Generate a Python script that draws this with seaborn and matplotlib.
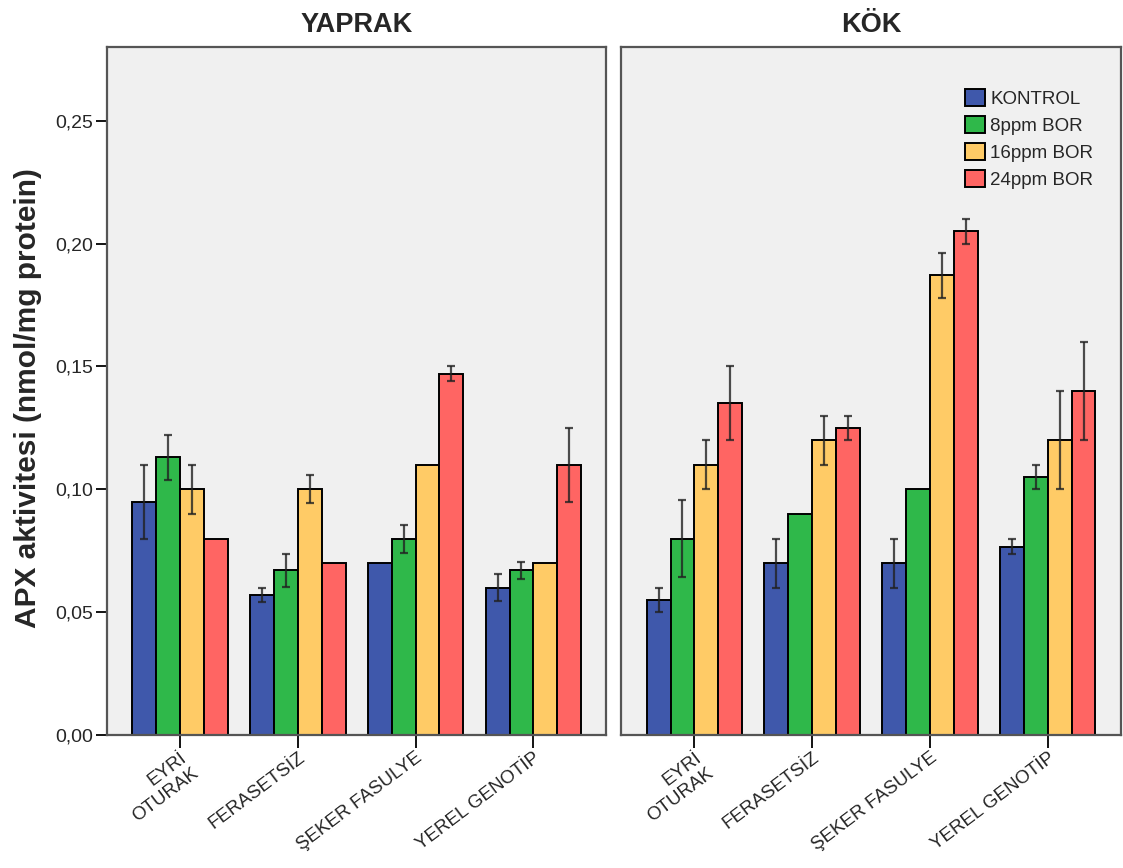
import numpy as np
import pandas as pd
import matplotlib
matplotlib.use("Agg")
import matplotlib.pyplot as plt
from matplotlib.container import BarContainer
import seaborn as sns

genotypes = ["EYRİ\nOTURAK", "FERASETSİZ", "ŞEKER FASULYE", "YEREL GENOTİP"]
treatments = ["KONTROL", "8ppm BOR", "16ppm BOR", "24ppm BOR"]
panels = ["YAPRAK", "KÖK"]

# means per genotype (rows) x treatment (cols)
yaprak_mean = [[0.095, 0.113, 0.100, 0.080],
               [0.057, 0.067, 0.100, 0.070],
               [0.070, 0.080, 0.110, 0.147],
               [0.060, 0.067, 0.070, 0.110]]
yaprak_err = [[0.015, 0.009, 0.010, 0.0],
              [0.003, 0.0067, 0.0057, 0.0],
              [0.0, 0.0057, 0.0, 0.003],
              [0.0056, 0.0034, 0.0, 0.015]]
kok_mean = [[0.055, 0.080, 0.110, 0.135],
            [0.070, 0.090, 0.120, 0.125],
            [0.070, 0.100, 0.187, 0.205],
            [0.0767, 0.105, 0.120, 0.140]]
kok_err = [[0.005, 0.0155, 0.010, 0.015],
           [0.010, 0.0, 0.010, 0.005],
           [0.010, 0.0, 0.009, 0.005],
           [0.003, 0.005, 0.020, 0.020]]

yticks = [0.00, 0.05, 0.10, 0.15, 0.20, 0.25]
ytick_labels = ["0,00", "0,05", "0,10", "0,15", "0,20", "0,25"]
colors = ["#3F58AB", "#2FB84A", "#FFCB66", "#FF6563"]

sns.set_theme(style="white")
plt.rcParams["font.family"] = ["Liberation Sans", "DejaVu Sans"]

fig, axes = plt.subplots(1, 2, figsize=(11.23, 8.68), dpi=100, sharey=True)
fig.subplots_adjust(left=0.0953, right=0.998, top=0.946, bottom=0.153, wspace=0.03)

for ax, name, means, errs in zip(axes, panels, [yaprak_mean, kok_mean], [yaprak_err, kok_err]):
    rows = []
    for gi, g in enumerate(genotypes):
        for ti, t in enumerate(treatments):
            rows.append({"Genotip": g, "Uygulama": t, "APX": means[gi][ti]})
    df = pd.DataFrame(rows)
    sns.barplot(data=df, x="Genotip", y="APX", hue="Uygulama", order=genotypes,
                hue_order=treatments, palette=colors, errorbar=None, width=0.81,
                edgecolor="black", linewidth=1.4, saturation=1, ax=ax, legend=(name == "KÖK"))
    bar_conts = [c for c in ax.containers if isinstance(c, BarContainer)]
    for ti, cont in enumerate(bar_conts):
        for gi, bar in enumerate(cont.patches):
            e = errs[gi][ti]
            if e > 0:
                ax.errorbar(bar.get_x() + bar.get_width() / 2, bar.get_height(), yerr=e,
                            fmt="none", ecolor="#222222", alpha=0.8, elinewidth=1.6,
                            capsize=3, capthick=1.6)
    ax.set_facecolor("#F0F0F0")
    ax.set_xlim(-0.62, 3.62)
    ax.set_ylim(0, 0.28)
    ax.set_xlabel("")
    ax.set_ylabel("")
    ax.set_title(name, fontsize=19.5, fontweight="bold", pad=11)
    for sp in ax.spines.values():
        sp.set_color("#555555")
        sp.set_linewidth(1.6)
    ax.set_xticks(range(len(genotypes)))
    ax.set_xticklabels(genotypes, rotation=37, ha="right", rotation_mode="anchor",
                       fontsize=13.5)
    ax.tick_params(axis="x", bottom=True, length=9, width=1.3, color="black", pad=1)

axes[0].set_yticks(yticks)
axes[0].set_yticklabels(ytick_labels, fontsize=14)
axes[0].tick_params(axis="y", left=True, length=8, width=1.3, color="black", pad=2)
axes[1].tick_params(axis="y", left=False)
axes[0].set_ylabel("APX aktivitesi (nmol/mg protein)", fontsize=21.5, fontweight="bold")
axes[0].yaxis.set_label_coords(-0.13, 0.49)

leg = axes[1].legend(loc="upper left", bbox_to_anchor=(0.688, 0.939), frameon=False,
                     fontsize=13.5, handlelength=1.07, handleheight=1.05, handletextpad=0.27,
                     labelspacing=0.42, borderpad=0, borderaxespad=0, title=None)

fig.savefig("out.png", dpi=100)
